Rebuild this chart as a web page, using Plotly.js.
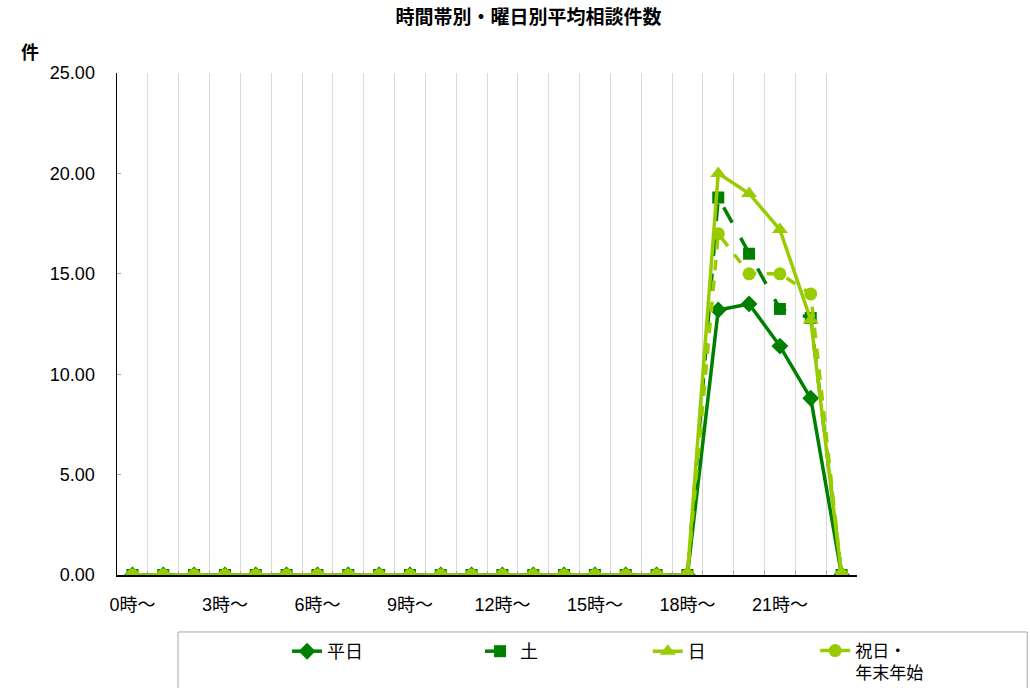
<!DOCTYPE html>
<html>
<head>
<meta charset="utf-8">
<script src="https://cdn.plot.ly/plotly-3.0.1.min.js"></script>
<style>html,body{margin:0;padding:0;background:#fff;}</style>
</head>
<body>
<div id="chart" style="width:1030px;height:688px;"></div>
<script>
const hours = ["0時〜","1時〜","2時〜","3時〜","4時〜","5時〜","6時〜","7時〜","8時〜","9時〜","10時〜","11時〜",
  "12時〜","13時〜","14時〜","15時〜","16時〜","17時〜","18時〜","19時〜","20時〜","21時〜","22時〜","23時〜"];
const tickLabels = ["0時〜","","","3時〜","","","6時〜","","","9時〜","","","12時〜","","","15時〜","","","18時〜","","","21時〜","",""];
const weekday = [0,0,0,0,0,0,0,0,0,0,0,0,0,0,0,0,0,0,0,13.2,13.5,11.4,8.8,0];
const saturday = [0,0,0,0,0,0,0,0,0,0,0,0,0,0,0,0,0,0,0,18.8,16.0,13.25,12.8,0];
const sunday = [0,0,0,0,0,0,0,0,0,0,0,0,0,0,0,0,0,0,0,20.0,19.0,17.2,12.7,0];
const holiday = [0,0,0,0,0,0,0,0,0,0,0,0,0,0,0,0,0,0,0,17.0,15.0,15.0,14.0,0];
const seriesNames = ["平日","土","日","祝日・<br>年末年始"];

const dark = "#008000", light = "#99cc00";
const font = "Liberation Sans, Noto Sans CJK JP, sans-serif";
const cjk = "Noto Sans CJK JP, sans-serif";
const traces = [
  {x: hours, y: weekday, name: seriesNames[0], mode: "lines+markers", legend: "legend",
   line: {color: dark, width: 3.5}, marker: {symbol: "diamond", size: 13, color: dark}},
  {x: hours, y: saturday, name: seriesNames[1], mode: "lines+markers", legend: "legend2",
   line: {color: dark, width: 3.5, dash: "longdash"}, marker: {symbol: "square", size: 12, color: dark}},
  {x: hours, y: sunday, name: seriesNames[2], mode: "lines+markers", legend: "legend3",
   line: {color: light, width: 3.5}, marker: {symbol: "triangle-up", size: 14, color: light}},
  {x: hours, y: holiday, name: seriesNames[3], mode: "lines+markers", legend: "legend4",
   line: {color: light, width: 3.5, dash: "dash"}, marker: {symbol: "circle", size: 13, color: light}}
];
function leg(x, size) {
  return {orientation: "v", x: x, xanchor: "left", y: -0.1155, yanchor: "top", valign: "top",
          font: {family: cjk, size: size, color: "#000"}, bgcolor: "rgba(0,0,0,0)", borderwidth: 0};
}
const layout = {
  width: 1030, height: 688,
  margin: {l: 117, r: 173, t: 73, b: 113, autoexpand: false},
  paper_bgcolor: "#fff", plot_bgcolor: "#fff",
  font: {family: font, color: "#000", size: 18},
  title: {text: "時間帯別・曜日別平均相談件数", x: 0.513, xanchor: "center", y: 0.975, yanchor: "middle",
          font: {family: cjk, size: 19, color: "#000", weight: "bold"}},
  showlegend: true,
  legend: leg(0.2298, 18), legend2: leg(0.4906, 18), legend3: leg(0.7173, 18), legend4: leg(0.9435, 17),
  xaxis: {type: "category", categoryorder: "array", categoryarray: hours,
          tickmode: "array", tickvals: hours, ticktext: tickLabels, tickson: "boundaries", tickangle: 0,
          showgrid: true, gridcolor: "#d9d9d9", gridwidth: 1,
          showline: true, linecolor: "#000", linewidth: 1.5,
          ticks: "inside", ticklen: 4, tickcolor: "#a6a6a6", ticklabelstandoff: 13,
          tickfont: {family: font, size: 18}, range: [-0.5, 23.5], zeroline: false, fixedrange: true,
          automargin: false},
  yaxis: {range: [0, 25], tickvals: [0,5,10,15,20,25], tickformat: ".2f",
          showgrid: false, zeroline: false, showline: true, linecolor: "#000", linewidth: 1.5,
          ticks: "inside", ticklen: 4, tickcolor: "#a6a6a6", ticklabelstandoff: 17,
          tickfont: {family: font, size: 18}, automargin: false},
  shapes: [{type: "rect", xref: "paper", yref: "paper", x0: 61/740, x1: 1.23, y0: -0.3, y1: -0.1135,
            line: {color: "#a6a6a6", width: 1}, fillcolor: "rgba(0,0,0,0)"}],
  annotations: [{text: "件", xref: "paper", yref: "paper", x: -0.1176, y: 1.0438, xanchor: "center", yanchor: "middle",
                 showarrow: false, font: {family: cjk, size: 18, color: "#000", weight: "bold"}}]
};
Plotly.newPlot("chart", traces, layout, {displayModeBar: false, staticPlot: true});
</script>
</body>
</html>
